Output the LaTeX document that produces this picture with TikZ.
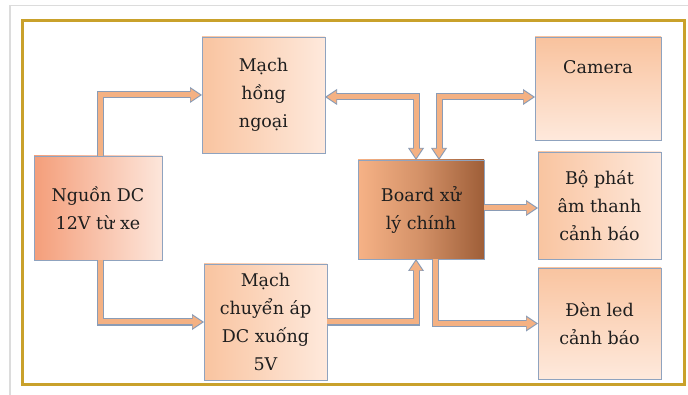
\documentclass[tikz,border=0pt]{standalone}
\usepackage{fontspec}
\setmainfont{DejaVu Serif}
\usetikzlibrary{arrows.meta}
\definecolor{goldc}{HTML}{C9A12B}
\definecolor{framegray}{HTML}{DCDCDC}
\definecolor{bordc}{HTML}{8FA3BF}
\definecolor{peachL}{HTML}{F9C4A0}
\definecolor{peachR}{HTML}{FEE9DC}
\definecolor{srcL}{HTML}{F49E7A}
\definecolor{srcR}{HTML}{FDE6DB}
\definecolor{brdL}{HTML}{F6B286}
\definecolor{brdR}{HTML}{9E5E38}
\definecolor{arrfill}{HTML}{F4B183}
\definecolor{arrline}{HTML}{8A9CB6}
\definecolor{txt}{HTML}{1E1E1E}
\tikzset{
  box/.style={draw=bordc, line width=0.9pt, outer sep=0pt, inner sep=2pt,
    align=center, text=txt, font=\fontsize{17.5}{28}\selectfont,
    left color=peachL, right color=peachR},
  fatouter/.style={draw=arrline, line width=7pt, line join=miter,
    >={Triangle[width=16pt,length=12pt,line width=0pt]}},
  fatinner/.style={draw=arrfill, line width=5pt, line join=miter,
    >={Triangle[width=12.6pt,length=9.4pt,line width=0pt]}},
}
\newcommand{\fatarrow}[3]{%
  \draw[fatouter,#1] #3;
  \draw[fatinner,#1,#2] #3;}
\begin{document}
\begin{tikzpicture}[x=1pt,y=-1pt]
\useasboundingbox (0,0) rectangle (688,395);
\fill[white] (0,0) rectangle (688,395);
\draw[framegray, line width=1.2pt] (10,395) -- (10,5.5) -- (688,5.5);
\draw[goldc, line width=3pt] (22.5,21) rectangle (684.5,384.5);

\node[box, minimum width=123pt, minimum height=116pt] (hong) at (263.5,95) {Mạch\\hồng\\ngoại};
\node[box, minimum width=128pt, minimum height=104pt, left color=srcL, right color=srcR] (nguon) at (98,208) {Nguồn DC\\12V từ xe};
\node[box, minimum width=123pt, minimum height=116pt] (chuyen) at (265.5,322) {Mạch\\chuyển áp\\DC xuống\\5V};
\node[box, minimum width=126pt, minimum height=99pt, left color=brdL, right color=brdR,
  middle color=brdL!60!brdR] (board) at (421,209.5) {Board xử\\lý chính};
\node[box, minimum width=126pt, minimum height=103pt, left color=peachL, right color=peachL,
  top color=peachL!90!brdL, bottom color=peachR] (camera) at (598,88.5) {Camera\\[14pt]};
\node[box, minimum width=123pt, minimum height=107pt] (bophat) at (599.5,205.5) {Bộ phát\\âm thanh\\cảnh báo};
\node[box, minimum width=123pt, minimum height=111pt, top color=peachL, bottom color=peachR] (denled) at (599.5,323.5) {Đèn led\\cảnh báo};

\fatarrow{->}{shorten >=2pt}{([xshift=2pt]nguon.north) |- (hong.west)}
\fatarrow{->}{shorten >=2pt}{([xshift=2pt]nguon.south) |- (chuyen.west)}
\fatarrow{<->}{shorten >=2pt, shorten <=2pt}{([yshift=-2pt]hong.east) -| ([xshift=-5pt]board.north)}
\fatarrow{<->}{shorten >=2pt, shorten <=2pt}{([xshift=18pt]board.north) |- ([yshift=-8.5pt]camera.west)}
\fatarrow{->}{shorten >=2pt}{([yshift=1.5pt]board.east) -- ([yshift=1.5pt]board.east -| bophat.west)}
\fatarrow{->}{shorten >=2pt}{(chuyen.east) -| ([xshift=-5pt]board.south)}
\fatarrow{->}{shorten >=2pt}{([xshift=14pt]board.south) |- (denled.west)}
\end{tikzpicture}
\end{document}
